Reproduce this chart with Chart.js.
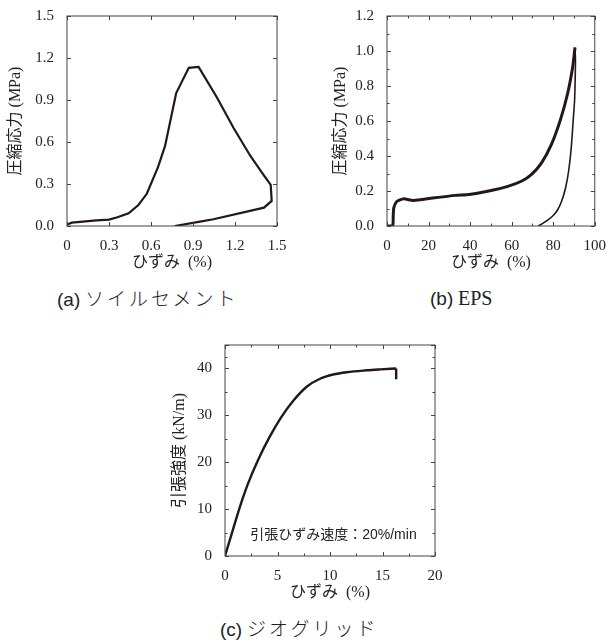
<!DOCTYPE html>
<html>
<head>
<meta charset="utf-8">
<script src="https://cdn.jsdelivr.net/npm/chart.js@4.4.1/dist/chart.umd.min.js"></script>
<style>
  body { margin: 0; background: #fff; width: 609px; height: 644px; position: relative; overflow: hidden; }
  .box { position: absolute; }
  .cap { position: absolute; font-size: 19px; line-height: 24px; color: #222; white-space: nowrap; }
  .cap .lat { font-family: 'Liberation Sans', sans-serif; }
  .cap .jp { font-family: 'Noto Sans CJK JP', sans-serif; font-weight: 300; letter-spacing: 3px; }
  .cap .ser { font-family: 'Liberation Serif', serif; font-size: 20px; }
</style>
</head>
<body>
<div class="box" style="left:0;top:0;width:300px;height:280px"><canvas id="soil"></canvas></div>
<div class="box" style="left:300px;top:0;width:309px;height:280px"><canvas id="eps"></canvas></div>
<div class="box" style="left:150px;top:320px;width:320px;height:290px"><canvas id="grid"></canvas></div>

<div class="cap" style="left:57px;top:286px"><span class="lat">(a)</span> <span class="jp">ソイルセメント</span></div>
<div class="cap" style="left:430px;top:286px"><span class="lat">(b)</span> <span class="ser">EPS</span></div>
<div class="cap" style="left:220px;top:616px"><span class="lat">(c)</span> <span class="jp">ジオグリッド</span></div>

<script>
// (a) soil cement
const soilStrain = [0, 0.035, 0.21, 0.30, 0.36, 0.44, 0.51, 0.57, 0.65, 0.70, 0.78, 0.87, 0.94, 1.07, 1.19, 1.31, 1.40, 1.455, 1.462, 1.407, 1.046, 0.95, 0.77]
const soilStress = [0.01, 0.024, 0.040, 0.046, 0.062, 0.09, 0.15, 0.23, 0.42, 0.57, 0.95, 1.13, 1.136, 0.92, 0.70, 0.50, 0.37, 0.293, 0.179, 0.131, 0.048, 0.031, 0]

// (b) EPS, loading and unloading
const epsLoadStrain = [0, 2.7, 3.0, 3.3, 4.7, 8, 12.7, 22, 33, 39.5, 49, 58.5, 64.9, 69.6, 74.4, 79.1, 83.5, 87, 89.4, 90.5]
const epsLoadStress = [0, 0, 0.06, 0.105, 0.14, 0.155, 0.146, 0.16, 0.175, 0.18, 0.2, 0.228, 0.257, 0.295, 0.361, 0.465, 0.608, 0.76, 0.91, 1.02]
const epsUnloadStrain = [90.5, 90.7, 90.6, 90.3, 89.6, 88.7, 87.5, 86, 84, 82, 80, 77.5, 75, 72.8]
const epsUnloadStress = [1.02, 0.95, 0.85, 0.72, 0.60, 0.45, 0.32, 0.22, 0.14, 0.09, 0.06, 0.035, 0.015, 0]

// (c) geogrid, last point is the drop at rupture
const gridStrain = [0, 0.78, 1.42, 2.2, 3.15, 4.25, 5.3, 6.5, 7.78, 9.05, 10.3, 11.6, 13.5, 14.8, 16.3, 16.3]
const gridLoad = [0, 5.8, 10.5, 15.5, 20.5, 25.4, 29.4, 33.1, 36.1, 37.8, 38.7, 39.2, 39.6, 39.8, 40.0, 37.7]

const LINE = '#231815'
const SERIF = "'Liberation Serif', serif"
const TITLE_FONT = "'Liberation Serif', 'Noto Sans CJK JP', serif"

const pts = (xs, ys) => xs.map((v, i) => ({x: v, y: ys[i]}))

// box around the plot plus inward tick marks on all four sides
const frameTicks = {
  id: 'frameTicks',
  afterDraw(chart, args, opts) {
    const {ctx, chartArea: a, scales: {x, y}} = chart
    ctx.save()
    ctx.strokeStyle = '#444'
    ctx.lineWidth = 1
    ctx.strokeRect(a.left, a.top, a.right - a.left, a.bottom - a.top)
    const marks = (scale) => {
      const out = scale.ticks.map(t => [t.value, 4])
      if (opts.minor) {
        for (let i = 0; i < scale.ticks.length - 1; i++) {
          out.push([(scale.ticks[i].value + scale.ticks[i + 1].value) / 2, 2.5])
        }
      }
      return out
    }
    ctx.beginPath()
    marks(x).forEach(([v, len]) => {
      const px = Math.round(x.getPixelForValue(v)) + 0.5
      ctx.moveTo(px, a.bottom); ctx.lineTo(px, a.bottom - len)
      ctx.moveTo(px, a.top); ctx.lineTo(px, a.top + len)
    })
    marks(y).forEach(([v, len]) => {
      const py = Math.round(y.getPixelForValue(v)) + 0.5
      ctx.moveTo(a.left, py); ctx.lineTo(a.left + len, py)
      ctx.moveTo(a.right, py); ctx.lineTo(a.right - len, py)
    })
    ctx.stroke()
    if (opts.note) {
      ctx.fillStyle = '#222'
      ctx.font = "14px 'Liberation Sans', 'Noto Sans CJK JP', sans-serif"
      ctx.textAlign = 'left'
      ctx.textBaseline = 'middle'
      ctx.fillText(opts.note.text, x.getPixelForValue(opts.note.x), y.getPixelForValue(opts.note.y))
    }
    ctx.restore()
  }
}

function makeChart(id, cfg) {
  return new Chart(document.getElementById(id), {
    type: 'scatter',
    data: {datasets: cfg.datasets},
    plugins: [frameTicks],
    options: {
      responsive: false,
      animation: false,
      layout: {padding: cfg.padding},
      plugins: {legend: {display: false}, tooltip: {enabled: false}, frameTicks: {minor: cfg.minor, note: cfg.note}},
      elements: {point: {radius: 0}},
      scales: {
        x: {
          type: 'linear', min: cfg.xMin, max: cfg.xMax,
          grid: {display: false}, border: {display: false},
          ticks: {stepSize: cfg.xStep, padding: 3, color: '#222', font: {family: SERIF, size: 15}, callback: cfg.xFmt, maxRotation: 0},
          title: {display: true, text: cfg.xTitle, color: '#222', font: {family: TITLE_FONT, size: 16}, padding: {top: 0, bottom: 8}},
          afterFit: s => { s.height = cfg.xH }
        },
        y: {
          type: 'linear', min: cfg.yMin, max: cfg.yMax,
          grid: {display: false}, border: {display: false},
          ticks: {stepSize: cfg.yStep, padding: 5, color: '#222', font: {family: SERIF, size: 15}, callback: cfg.yFmt},
          title: {display: true, text: cfg.yTitle, color: '#222', font: {family: TITLE_FONT, size: 16}, padding: {top: cfg.yTitlePad, bottom: 0}},
          afterFit: s => { s.width = cfg.yW }
        }
      }
    }
  })
}

const line = (data, w, tension) => ({data, showLine: true, borderColor: LINE, borderWidth: w, tension, pointRadius: 0, fill: false})

document.getElementById('soil').width = 300; document.getElementById('soil').height = 280
document.getElementById('eps').width = 309; document.getElementById('eps').height = 280
document.getElementById('grid').width = 320; document.getElementById('grid').height = 290

makeChart('soil', {
  datasets: [line(pts(soilStrain, soilStress), 2.2, 0)],
  padding: {left: 0, top: 16, right: 23, bottom: 0},
  xMin: 0, xMax: 1.5, xStep: 0.3, xFmt: v => v === 0 ? '0' : v.toFixed(1),
  yMin: 0, yMax: 1.5, yStep: 0.3, yFmt: v => v.toFixed(1),
  xTitle: 'ひずみ  (%)', yTitle: '圧縮応力 (MPa)', yTitlePad: 6,
  xH: 54, yW: 67, minor: false
})

makeChart('eps', {
  datasets: [line(pts(epsLoadStrain, epsLoadStress), 3, 0.2), line(pts(epsUnloadStrain, epsUnloadStress), 1.6, 0.25)],
  padding: {left: 20, top: 16, right: 12, bottom: 0},
  xMin: 0, xMax: 100, xStep: 20, xFmt: v => String(v),
  yMin: 0, yMax: 1.2, yStep: 0.2, yFmt: v => v.toFixed(1),
  xTitle: 'ひずみ  (%)', yTitle: '圧縮応力 (MPa)', yTitlePad: 11,
  xH: 54, yW: 67, minor: true
})

const gridCurve = pts(gridStrain, gridLoad)
const rising = Object.assign(line(gridCurve.slice(0, -1), 2.4, 0), {cubicInterpolationMode: 'monotone'})
const drop = line(gridCurve.slice(-2), 2.4, 0)

makeChart('grid', {
  datasets: [rising, drop],
  padding: {left: 10, top: 25, right: 35, bottom: 0},
  xMin: 0, xMax: 20, xStep: 5, xFmt: v => String(v),
  yMin: 0, yMax: 45, yStep: 10, yFmt: v => v > 40 ? '' : String(v),
  xTitle: 'ひずみ  (%)', yTitle: '引張強度 (kN/m)', yTitlePad: 10,
  xH: 54, yW: 65, minor: true,
  note: {text: '引張ひずみ速度：20%/min', x: 2.4, y: 4.5}
})
</script>
</body>
</html>
